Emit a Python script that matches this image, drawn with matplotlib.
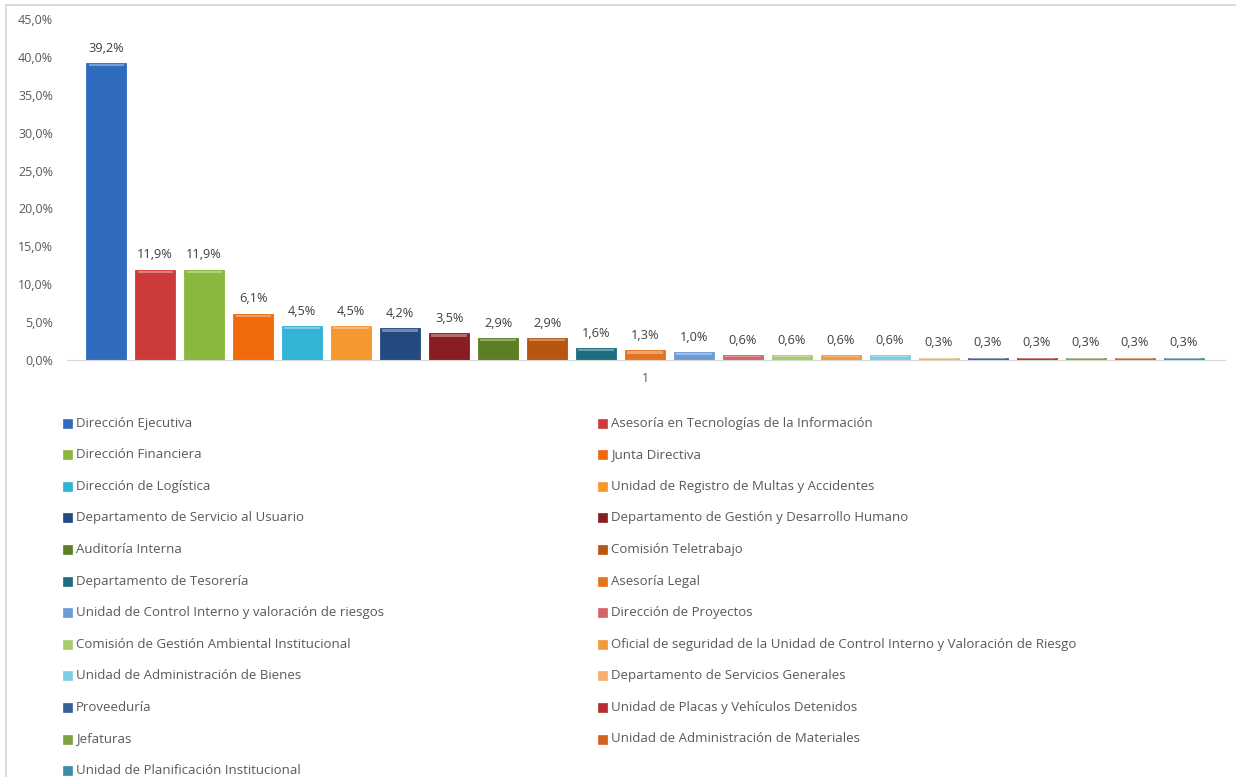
import matplotlib.pyplot as plt
from matplotlib.patches import Rectangle

# unidades y porcentajes, en el orden del grafico
unidades = [
    'Dirección Ejecutiva',
    'Asesoría en Tecnologías de la Información',
    'Dirección Financiera',
    'Junta Directiva',
    'Dirección de Logística',
    'Unidad de Registro de Multas y Accidentes',
    'Departamento de Servicio al Usuario',
    'Departamento de Gestión y Desarrollo Humano',
    'Auditoría Interna',
    'Comisión Teletrabajo',
    'Departamento de Tesorería',
    'Asesoría Legal',
    'Unidad de Control Interno y valoración de riesgos',
    'Dirección de Proyectos',
    'Comisión de Gestión Ambiental Institucional',
    'Oficial de seguridad de la Unidad de Control Interno y Valoración de Riesgo',
    'Unidad de Administración de Bienes',
    'Departamento de Servicios Generales',
    'Proveeduría',
    'Unidad de Placas y Vehículos Detenidos',
    'Jefaturas',
    'Unidad de Administración de Materiales',
    'Unidad de Planificación Institucional',
]
porcentajes = [39.2, 11.9, 11.9, 6.1, 4.5, 4.5, 4.2, 3.5, 2.9, 2.9, 1.6, 1.3,
               1.0, 0.6, 0.6, 0.6, 0.6, 0.3, 0.3, 0.3, 0.3, 0.3, 0.3]
colores = ['#2f6cc0', '#cc3a3a', '#8ab83c', '#f06a0c', '#33b3d6', '#f5982f',
           '#234b80', '#8a1d22', '#5c7e24', '#b8550f', '#1d6c80', '#e47320',
           '#6b9cd8', '#d46468', '#a8cc6c', '#f29a3c', '#7ccde2', '#f4b068',
           '#3c5f9c', '#b32e30', '#7fa03e', '#d0621c', '#3a8ea8']
yticks = [0, 5, 10, 15, 20, 25, 30, 35, 40, 45]

W, H = 1236, 777
fig = plt.figure(figsize=(W / 100, H / 100), dpi=100)
plt.rcParams['font.family'] = ['Open Sans', 'DejaVu Sans']

# marco exterior
fig.patches.append(Rectangle((6 / W, -0.01), 1.02, (777 - 5) / H + 0.01,
                             transform=fig.transFigure, fill=False,
                             edgecolor='#d4d4d4', linewidth=1.2))

ax = fig.add_axes([67 / W, (H - 360) / H, (1225 - 67) / W, (360 - 19) / H])
x = list(range(len(porcentajes)))
bars = ax.bar(x, porcentajes, width=0.82, color=colores,
              edgecolor=[c for c in colores], linewidth=0.6)
# brillo superior de cada barra
for b, c in zip(bars, colores):
    h = b.get_height()
    ax.bar(b.get_x() + b.get_width() / 2, min(0.35, h * 0.3), width=0.72,
           bottom=h - min(0.45, h * 0.4), color='white', alpha=0.35, linewidth=0)

for xi, v in zip(x, porcentajes):
    ax.annotate(('%.1f%%' % v).replace('.', ','), (xi, v), xytext=(0, 6),
                textcoords='offset points', ha='center', va='bottom',
                fontsize=9.2, color='#404040')

ax.set_xlim(-0.8, 22.84)
ax.set_ylim(0, 45)
ax.set_yticks(yticks)
ax.set_yticklabels([('%.1f%%' % t).replace('.', ',') for t in yticks],
                   fontsize=9, color='#595959')
ax.set_xticks([11])
ax.set_xticklabels(['1'], fontsize=9, color='#595959')
ax.tick_params(axis='both', length=0)
ax.tick_params(axis='y', pad=10)
ax.tick_params(axis='x', pad=9)
for s in ['top', 'right', 'left']:
    ax.spines[s].set_visible(False)
ax.spines['bottom'].set_color('#d9d9d9')

# leyenda en dos columnas, llenada por filas
col_x = [63, 598]
y0, dy = 423, 31.6
for i, (lab, c) in enumerate(zip(unidades, colores)):
    fila, col = i // 2, i % 2
    yy = y0 + fila * dy
    fig.patches.append(Rectangle((col_x[col] / W, (H - yy - 4.5) / H), 9 / W, 9 / H,
                                 transform=fig.transFigure, facecolor=c,
                                 edgecolor=c, linewidth=0.5))
    fig.text((col_x[col] + 13) / W, (H - yy) / H, lab, fontsize=9.5,
             color='#595959', va='center', ha='left')

fig.savefig('out.png', dpi=100, facecolor='white')
